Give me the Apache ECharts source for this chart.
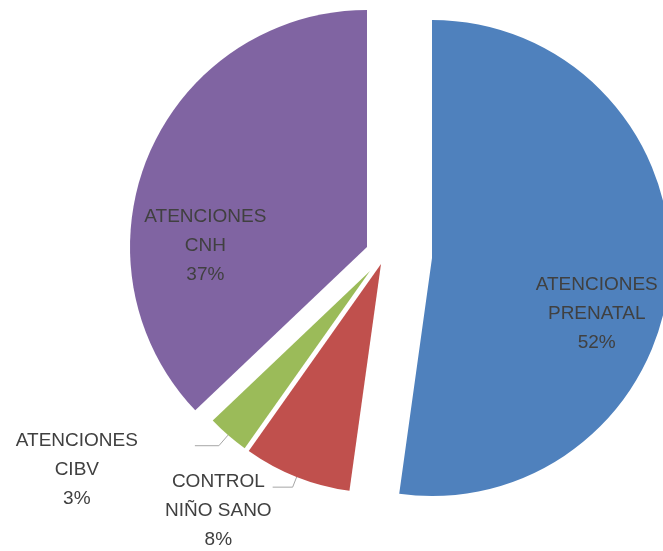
<!DOCTYPE html>
<html>
<head>
<meta charset="utf-8">
<script src="https://cdn.jsdelivr.net/npm/echarts@6/dist/echarts.min.js"></script>
<style>
  html, body { margin: 0; padding: 0; background: #fff; }
  #chart { width: 663px; height: 551px; }
</style>
</head>
<body>
<div id="chart"></div>
<script>
// slices, clockwise from 12 o'clock
const categories = ['ATENCIONES\nPRENATAL', 'CONTROL\nNIÑO SANO', 'ATENCIONES\nCIBV', 'ATENCIONES\nCNH'];
const values = [52.2, 7.6, 3.1, 37.1];
const colors = ['#4F81BD', '#C0504D', '#9BBB59', '#8064A2'];

// every slice is pulled out on its own, so each gets its own pie
const slicePlace = [
    {center: [432, 258], radius: 238, inside: true, shift: [43, 47]},
    {center: [381, 264], radius: 229, inside: false, len: 11, len2: 20, gap: 1},
    {center: [370, 271], radius: 217, inside: false, len: 14, len2: 24, gap: 57},
    {center: [367, 247], radius: 237, inside: true, shift: [-50, 47]}
];

const textColor = '#404040';

const labelText = p => p.name.split('\n').concat(p.percent + '%')
    .map(s => '{t|' + s + '}').join('\n');

const series = slicePlace.map((pl, k) => {
    const s = {
        type: 'pie',
        center: pl.center,
        radius: pl.radius,
        startAngle: 90,
        clockwise: true,
        percentPrecision: 0,
        avoidLabelOverlap: false,
        silent: true,
        animation: false,
        emphasis: {disabled: true},
        itemStyle: {borderWidth: 0},
        label: {
            show: true,
            position: pl.inside ? 'inside' : 'outside',
            formatter: labelText,
            color: textColor,
            rich: {
                t: {
                    fontFamily: '"Liberation Sans", Arial, sans-serif',
                    fontSize: 19,
                    lineHeight: 29,
                    color: textColor,
                    align: 'center'
                }
            }
        },
        labelLine: {
            show: !pl.inside,
            length: pl.len || 0,
            length2: pl.len2 || 0,
            smooth: false,
            lineStyle: {color: '#A6A6A6', width: 1}
        },
        data: values.map((v, i) => ({
            name: categories[i],
            value: v,
            itemStyle: {color: i === k ? colors[i] : 'rgba(0,0,0,0)'},
            label: {show: i === k},
            labelLine: {show: i === k && !pl.inside}
        }))
    };
    if (pl.inside) {
        s.labelLayout = () => ({dx: pl.shift[0], dy: pl.shift[1]});
    } else {
        s.label.distanceToLabelLine = pl.gap;
        s.label.padding = [48, 0, 0, 0];
    }
    return s;
});

const chart = echarts.init(document.getElementById('chart'), null, {renderer: 'canvas'});
chart.setOption({
    backgroundColor: '#fff',
    animation: false,
    series: series
});
</script>
</body>
</html>
